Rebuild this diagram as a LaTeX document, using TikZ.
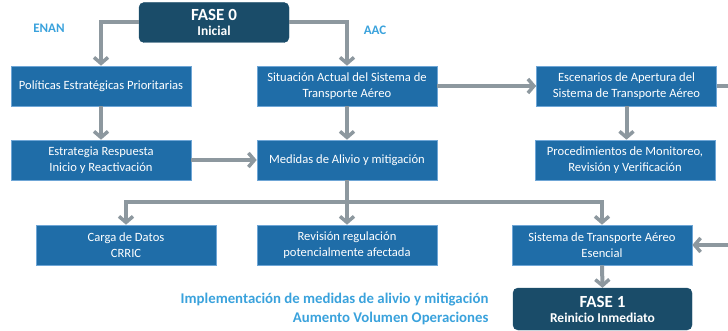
\documentclass[tikz,border=0pt]{standalone}
\usepackage{fontspec}
\setmainfont{Carlito}
\usetikzlibrary{arrows.meta}
\definecolor{boxblue}{HTML}{1F6DA8}
\definecolor{boxedge}{HTML}{6FA6D6}
\definecolor{darkbox}{HTML}{1A4C69}
\definecolor{conn}{HTML}{8D989F}
\definecolor{lblue}{HTML}{3AA2DC}
\tikzset{
  bluebox/.style={draw=boxedge, line width=0.6pt, fill=boxblue, text=white, minimum width=180pt, minimum height=40pt, inner sep=0pt, align=center, font=\fontsize{12.6}{15.5}\selectfont},
  phasebox/.style={draw=darkbox, fill=darkbox, rounded corners=5pt, text=white, minimum height=40pt, inner sep=0pt, align=center},
  conline/.style={draw=conn, line width=4pt},
  conarrow/.style={conline, -{Straight Barb[length=6pt,width=14pt,line width=3.5pt]}},
  side/.style={text=lblue, font=\bfseries\fontsize{13}{15}\selectfont},
}
\begin{document}
\begin{tikzpicture}[x=1pt,y=-1pt]
\useasboundingbox (0,0) rectangle (728,331);
% phase boxes
\node[phasebox, minimum width=150pt] (f0) at (214,22.5) {{\bfseries\fontsize{17}{18}\selectfont FASE 0}\\[3.5pt]{\bfseries\fontsize{13.5}{14}\selectfont Inicial}};
\node[phasebox, minimum width=179pt, minimum height=42pt] (f1) at (602.5,309) {{\bfseries\fontsize{17}{18}\selectfont FASE 1}\\[3pt]{\bfseries\fontsize{13.5}{14}\selectfont Reinicio Inmediato}};
% labels
\node[side] (enan) at (49,28) {ENAN};
\node[side] (aac) at (375,30) {AAC};
\node[side, anchor=east, align=right, font=\bfseries\fontsize{14.8}{19}\selectfont] (impl) at (492,308.5) {Implementación de medidas de alivio y mitigación\\Aumento Volumen Operaciones};
% row 1
\node[bluebox] (pol) at (101,86) {Políticas Estratégicas Prioritarias};
\node[bluebox] (sit) at (347,86) {Situación Actual del Sistema de\\Transporte Aéreo};
\node[bluebox] (esc) at (626.5,86) {Escenarios de Apertura del\\Sistema de Transporte Aéreo};
% row 2
\node[bluebox] (est) at (101,160) {Estrategia Respuesta\\Inicio y Reactivación};
\node[bluebox] (med) at (347,160) {Medidas de Alivio y mitigación};
\node[bluebox] (proc) at (625,160) {Procedimientos de Monitoreo,\\Revisión y Verificación};
% row 3
\node[bluebox] (carga) at (126,245) {Carga de Datos\\CRRIC};
\node[bluebox] (rev) at (347,245) {Revisión regulación\\potencialmente afectada};
\node[bluebox] (ese) at (602,245) {Sistema de Transporte Aéreo\\Esencial};
\coordinate (j) at (347,202);
\coordinate (rt) at (745,86);
% connectors
\draw[conarrow] (f0.west) -| (pol.north);
\draw[conarrow] (f0.east) -| (sit.north);
\draw[conarrow] (pol.south) -- (est.north);
\draw[conarrow] (sit.south) -- (med.north);
\draw[conarrow] (sit.east) -- (esc.west);
\draw[conarrow] (esc.south) -- (esc.south |- proc.north);
\draw[conarrow] (est.east) -- (med.west);
\draw[conline] (med.south) -- (j);
\draw[conarrow] (j) -| (carga.north);
\draw[conarrow] (j) -- (rev.north);
\draw[conarrow] (j) -| (ese.north);
\draw[conarrow] (esc.east) -- (rt) |- (ese.east);
\draw[conarrow] (ese.south) -- (f1.north);
\end{tikzpicture}
\end{document}
